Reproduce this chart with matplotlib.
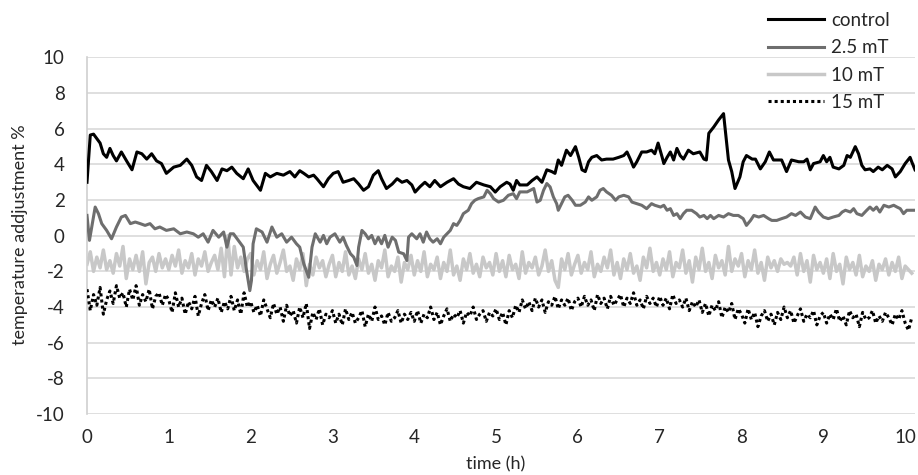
import numpy as np
import matplotlib.pyplot as plt

plt.rcParams['font.family'] = ['Lato', 'DejaVu Sans']
plt.rcParams['axes.unicode_minus'] = False

# control (black)
ctrl_t = [0.0, 0.04, 0.08, 0.12, 0.16, 0.2, 0.24, 0.28, 0.32, 0.36,
          0.42, 0.49, 0.55, 0.61, 0.67, 0.73, 0.79, 0.85, 0.91, 0.97,
          1.06, 1.14, 1.22, 1.28, 1.34, 1.40, 1.46, 1.52, 1.59, 1.65,
          1.71, 1.77, 1.83, 1.91, 1.97, 2.03, 2.12, 2.18, 2.24, 2.32,
          2.40, 2.48, 2.54, 2.60, 2.65, 2.71, 2.77, 2.81, 2.89, 2.95,
          3.01, 3.07, 3.13, 3.20, 3.26, 3.32, 3.38, 3.44, 3.50, 3.56,
          3.60, 3.66, 3.73, 3.79, 3.85, 3.91, 3.97, 4.01, 4.07, 4.13,
          4.19, 4.25, 4.32, 4.40, 4.48, 4.54, 4.60, 4.68, 4.76, 4.85,
          4.93, 4.99, 5.05, 5.13, 5.17, 5.21, 5.25, 5.29, 5.38, 5.44,
          5.50, 5.56, 5.62, 5.68, 5.72, 5.76, 5.80, 5.86, 5.91, 5.97,
          6.01, 6.05, 6.09, 6.13, 6.17, 6.23, 6.29, 6.35, 6.43, 6.50,
          6.56, 6.60, 6.64, 6.68, 6.72, 6.78, 6.84, 6.90, 6.94, 6.98,
          7.03, 7.05, 7.09, 7.13, 7.17, 7.21, 7.25, 7.29, 7.35, 7.41,
          7.49, 7.54, 7.57, 7.60, 7.66, 7.72, 7.78, 7.84, 7.88, 7.92,
          7.98, 8.02, 8.06, 8.13, 8.17, 8.23, 8.29, 8.34, 8.39, 8.49,
          8.55, 8.61, 8.70, 8.76, 8.80, 8.84, 8.88, 8.96, 9.00, 9.04,
          9.08, 9.12, 9.19, 9.25, 9.29, 9.33, 9.39, 9.43, 9.47, 9.51,
          9.57, 9.61, 9.67, 9.72, 9.78, 9.84, 9.88, 9.94, 10.00, 10.06,
          10.08, 10.12]
ctrl_v = [3.0, 5.65, 5.7, 5.45, 5.2, 4.6, 4.4, 4.9, 4.5, 4.2,
          4.7, 4.15, 3.7, 4.7, 4.6, 4.3, 4.6, 4.2, 4.05, 3.5,
          3.85, 3.95, 4.3, 3.95, 3.3, 3.1, 3.95, 3.6, 3.1, 3.75,
          3.65, 3.85, 3.5, 3.2, 3.75, 3.1, 2.55, 3.5, 3.3, 3.5,
          3.4, 3.6, 3.3, 3.65, 3.5, 3.3, 3.4, 3.2, 2.75, 3.2,
          3.5, 3.6, 3.0, 3.1, 3.2, 2.9, 2.55, 2.75, 3.4, 3.65,
          3.2, 2.65, 2.9, 3.2, 3.0, 3.1, 2.85, 2.45, 2.75, 3.0,
          2.75, 3.1, 2.75, 3.0, 3.2, 2.9, 2.75, 2.65, 3.0, 2.85,
          2.75, 2.45, 2.75, 3.0, 2.9, 2.55, 3.1, 2.85, 2.85, 3.1,
          3.3, 3.0, 3.7, 3.6, 3.5, 4.25, 3.95, 4.8, 4.5, 5.0,
          4.4, 3.7, 3.6, 4.15, 4.4, 4.5, 4.25, 4.3, 4.3, 4.4,
          4.5, 4.7, 4.3, 3.85, 4.15, 4.7, 4.7, 4.8, 4.6, 5.2,
          4.4, 4.05, 4.4, 4.7, 4.25, 4.9, 4.5, 4.3, 4.8, 4.6,
          4.7, 4.3, 4.25, 5.75, 6.1, 6.5, 6.85, 4.25, 3.6, 2.65,
          3.3, 4.15, 4.5, 4.3, 4.3, 3.75, 4.15, 4.7, 4.25, 4.25,
          3.6, 4.25, 4.15, 4.15, 4.3, 3.7, 4.05, 4.15, 4.5, 4.15,
          4.4, 3.85, 3.75, 3.95, 4.5, 4.4, 5.0, 4.6, 3.95, 3.7,
          3.75, 3.6, 3.85, 3.7, 3.95, 3.75, 3.3, 3.6, 4.05, 4.4,
          4.15, 3.7]

# 2.5 mT (dark grey)
mt25_t = [0.0, 0.03, 0.10, 0.14, 0.18, 0.24, 0.30, 0.36, 0.42, 0.47,
          0.53, 0.59, 0.65, 0.71, 0.77, 0.83, 0.89, 0.97, 1.06, 1.14,
          1.22, 1.30, 1.36, 1.42, 1.48, 1.54, 1.61, 1.67, 1.71, 1.75,
          1.79, 1.85, 1.91, 1.95, 1.99, 2.01, 2.03, 2.07, 2.14, 2.20,
          2.26, 2.32, 2.38, 2.44, 2.50, 2.56, 2.60, 2.65, 2.71, 2.75,
          2.79, 2.85, 2.89, 2.93, 2.97, 3.03, 3.09, 3.13, 3.17, 3.22,
          3.26, 3.30, 3.32, 3.36, 3.40, 3.44, 3.48, 3.52, 3.56, 3.60,
          3.64, 3.68, 3.73, 3.77, 3.81, 3.87, 3.91, 3.93, 3.97, 4.03,
          4.07, 4.11, 4.15, 4.19, 4.23, 4.28, 4.32, 4.36, 4.40, 4.44,
          4.48, 4.52, 4.56, 4.60, 4.66, 4.70, 4.74, 4.78, 4.85, 4.89,
          4.93, 4.97, 5.03, 5.09, 5.15, 5.21, 5.25, 5.29, 5.38, 5.46,
          5.50, 5.54, 5.58, 5.62, 5.66, 5.70, 5.74, 5.76, 5.80, 5.84,
          5.88, 5.93, 5.97, 6.03, 6.09, 6.13, 6.17, 6.23, 6.27, 6.31,
          6.35, 6.41, 6.46, 6.50, 6.56, 6.62, 6.66, 6.72, 6.78, 6.84,
          6.90, 6.94, 7.01, 7.05, 7.09, 7.13, 7.17, 7.21, 7.25, 7.29,
          7.33, 7.39, 7.45, 7.49, 7.54, 7.58, 7.62, 7.66, 7.72, 7.78,
          7.84, 7.90, 7.96, 8.02, 8.06, 8.11, 8.15, 8.21, 8.27, 8.33,
          8.37, 8.43, 8.49, 8.55, 8.61, 8.66, 8.72, 8.78, 8.84, 8.90,
          8.94, 9.00, 9.06, 9.12, 9.19, 9.23, 9.27, 9.33, 9.37, 9.41,
          9.47, 9.53, 9.57, 9.61, 9.65, 9.69, 9.74, 9.80, 9.86, 9.90,
          9.94, 9.98, 10.02, 10.06, 10.12]
mt25_v = [1.14, -0.26, 1.61, 1.24, 0.68, 0.30, -0.17, 0.49, 1.05, 1.14,
          0.68, 0.77, 0.68, 0.58, 0.68, 0.39, 0.49, 0.30, 0.39, 0.11,
          0.21, 0.11, -0.08, 0.11, -0.36, 0.30, -0.08, 0.21, -0.64, 0.11,
          0.11, -0.26, -0.64, -1.95, -3.08, -2.51, -0.45, 0.39, 0.21, -0.36,
          0.49, -0.08, 0.11, -0.36, -0.08, -0.45, -0.64, -1.58, -2.33, -0.64,
          0.11, -0.36, 0.02, -0.45, -0.08, 0.11, -0.36, -0.08, -0.54, -1.01,
          -1.2, -1.67, -0.64, 0.30, 0.11, -0.17, 0.02, -0.45, -0.08, -0.45,
          0.02, -0.64, -0.08, -0.26, -0.92, -1.01, -1.39, -0.08, 0.11, -0.17,
          0.11, -0.36, 0.21, -0.17, -0.36, -0.17, -0.45, -0.08, 0.11, 0.30,
          0.68, 0.58, 0.86, 1.24, 1.43, 1.80, 1.99, 2.08, 2.18, 2.55,
          2.36, 2.08, 1.89, 1.99, 2.27, 2.36, 2.08, 2.46, 2.46, 2.65,
          1.89, 1.99, 2.55, 2.93, 2.74, 2.18, 1.80, 1.43, 1.80, 2.18,
          2.27, 1.99, 1.71, 1.71, 1.89, 2.18, 1.99, 2.18, 2.55, 2.65,
          2.46, 2.27, 1.99, 2.18, 2.27, 2.18, 1.89, 1.80, 1.71, 1.52,
          1.80, 1.71, 1.61, 1.71, 1.43, 1.52, 1.14, 1.24, 0.96, 1.24,
          1.43, 1.43, 1.24, 1.05, 1.14, 0.96, 1.14, 0.96, 1.14, 1.05,
          1.24, 1.14, 1.14, 0.96, 0.58, 0.86, 1.14, 1.05, 1.14, 0.96,
          0.86, 0.86, 0.96, 1.05, 1.24, 1.14, 1.33, 1.05, 0.96, 1.61,
          1.33, 1.05, 0.96, 1.05, 1.14, 1.33, 1.43, 1.33, 1.52, 1.24,
          1.14, 1.43, 1.61, 1.43, 1.61, 1.33, 1.71, 1.61, 1.71, 1.61,
          1.52, 1.24, 1.43, 1.43, 1.43]

# 10 mT (light grey), one reading every 0.04 h
mt10_v = [-1.6, -0.9, -2.0, -1.2, -1.8, -0.8, -1.9, -1.4, -2.1, -1.0,
          -1.7, -0.6, -2.4, -1.3, -1.9, -1.1, -2.0, -0.9, -2.7, -1.5,
          -1.2, -2.0, -1.0, -1.8, -1.3,
          -1.9, -1.1, -1.7, -0.8, -2.1, -1.4, -1.8, -1.0, -2.2, -1.3,
          -1.7, -0.9, -2.0, -1.5, -1.1, -1.9, -0.7, -2.3, 0.0, -2.2,
          -0.6, -1.8, -1.2, -2.0, -1.3,
          -1.0, -2.2, -1.4, -1.9, -0.9, -2.4, -1.6, -1.1, -2.1, -1.5,
          -0.8, -2.0, -1.7, -2.5, -1.3, -1.9, -1.0, -2.8, -1.6, -2.2,
          -1.2, -1.8, -1.4, -2.3, -1.6,
          -1.1, -2.3, -1.5, -2.0, -0.9, -2.2, -1.7, -2.4, -1.3, -1.9,
          -1.0, -2.1, -1.6, -2.5, -1.4, -1.8, -0.8, -2.3, -1.7, -2.0,
          -1.2, -2.6, -1.5, -1.9, -1.1,
          -2.2, -1.4, -2.0, -0.9, -2.3, -1.6, -1.9, -1.2, -2.4, -1.5,
          -2.0, -0.8, -2.2, -1.7, -2.5, -1.3, -1.9, -1.0, -2.1, -1.6,
          -2.3, -1.2, -1.8, -1.5, -2.2,
          -1.0, -2.0, -1.4, -2.3, -1.1, -1.9, -1.6, -2.4, -0.9, -2.1,
          -1.5, -1.8, -1.2, -2.2, -1.7, -0.8, -2.0, -1.4, -2.5, -2.9,
          -1.3, -1.9, -1.0, -2.2, -1.6,
          -1.1, -2.1, -1.5, -1.9, -0.9, -2.3, -1.6, -2.0, -1.2, -1.8,
          -0.8, -2.2, -1.5, -2.4, -1.3, -1.9, -1.0, -2.1, -1.7, -2.5,
          -1.2, -1.8, -0.7, -2.0, -1.5,
          -2.2, -1.3, -1.9, -0.9, -2.3, -1.5, -1.8, -0.8, -2.1, -1.4,
          -2.6, -1.2, -1.9, -0.7, -2.0, -1.5, -2.4, -1.1, -1.8, -1.4,
          -2.2, -0.6, -2.0, -1.3, -1.7,
          -1.0, -2.3, -1.4, -1.9, -0.8, -2.1, -1.5, -2.5, -1.2, -1.8,
          -1.4, -2.0, -1.3, -1.6, -1.5, -1.7, -1.2, -2.2, -1.0, -2.0,
          -1.4, -2.6, -1.1, -1.9, -1.5,
          -2.1, -1.3, -2.4, -1.0, -2.0, -1.6, -2.7, -1.2, -1.9, -1.5,
          -2.2, -1.1, -2.3, -1.7, -2.0, -1.4, -2.5, -1.6, -1.9, -1.3,
          -2.2, -1.5, -2.0, -1.2, -2.4, -1.7, -1.9, -2.1]

# 15 mT (dotted black), one reading every 0.04 h
mt15_v = [-3.0, -4.2, -3.3, -3.9, -2.9, -4.4, -3.6, -3.1, -3.8, -2.8,
          -3.5, -3.2, -4.0, -3.0, -3.6, -2.8, -3.9, -3.3, -3.7, -3.0,
          -4.1, -3.4, -3.2, -3.9, -3.3,
          -3.6, -4.3, -3.2, -4.0, -3.5, -4.4, -3.7, -4.1, -3.4, -4.5,
          -3.8, -3.3, -4.2, -3.6, -4.0, -3.5, -4.3, -3.7, -4.1, -3.4,
          -4.2, -3.6, -4.4, -3.2, -4.0,
          -3.7, -4.3, -3.9, -4.5, -3.6, -4.1, -4.6, -3.8, -4.4, -4.0,
          -4.8, -3.9, -4.5, -4.2, -4.9, -4.0, -4.6, -3.8, -5.2, -4.3,
          -4.7, -4.1, -5.0, -4.4, -4.6,
          -4.2, -4.9, -4.4, -5.0, -4.1, -4.7, -4.3, -4.9, -4.6, -4.2,
          -5.1, -4.4, -4.8, -4.0, -4.7, -4.5, -5.0, -4.3, -4.8, -4.6,
          -4.2, -4.9, -4.4, -4.7, -4.3,
          -4.8, -4.2, -4.9, -4.4, -4.6, -4.0, -4.7, -4.3, -5.0, -4.5,
          -4.1, -4.8, -4.4, -4.6, -4.2, -4.9, -4.3, -4.5, -4.0, -4.7,
          -4.4, -4.2, -4.8, -4.3, -4.5,
          -4.1, -4.7, -4.3, -5.0, -4.2, -4.6, -3.9, -4.3, -3.6, -4.1,
          -3.7, -4.2, -3.5, -4.0, -3.6, -4.3, -3.7, -3.9, -3.4, -4.1,
          -3.6, -3.9, -3.5, -4.2, -3.7,
          -3.5, -4.0, -3.4, -3.9, -3.6, -4.2, -3.3, -3.8, -3.5, -4.1,
          -3.4, -3.9, -3.6, -3.3, -4.0, -3.5, -3.8, -3.2, -3.9, -3.6,
          -4.1, -3.4, -3.8, -3.5, -4.0,
          -3.4, -3.9, -3.5, -4.1, -3.3, -3.8, -3.6, -4.0, -3.5, -4.2,
          -3.7, -4.0, -3.6, -4.3, -3.8, -4.5, -3.9, -4.2, -3.7, -4.6,
          -4.0, -4.3, -3.8, -4.7, -4.1,
          -4.4, -4.9, -4.1, -4.7, -4.3, -5.1, -4.5, -4.2, -4.8, -4.4,
          -5.0, -4.3, -4.7, -4.0, -4.6, -4.2, -4.9, -4.5, -4.1, -4.8,
          -4.4, -4.6, -4.2, -5.0, -4.5,
          -4.3, -4.9, -4.4, -4.7, -4.1, -4.8, -4.5, -5.0, -4.2, -4.6,
          -4.4, -5.1, -4.3, -4.7, -4.6, -4.2, -4.9, -4.5, -4.8, -4.3,
          -4.6, -5.0, -4.4, -4.7, -4.2, -4.9, -5.3, -4.6]

t_step = 0.04
mt10_t = np.arange(len(mt10_v)) * t_step
mt15_t = np.arange(len(mt15_v)) * t_step

W, H = 918, 475
fig = plt.figure(figsize=(W / 100, H / 100), dpi=100)
ax = fig.add_axes([87 / W, 1 - 414 / H, (915 - 87) / W, (414 - 57.5) / H])

txt = '#262626'
l_ctrl, = ax.plot(ctrl_t, ctrl_v, color='black', lw=2.2, zorder=4, label='control')
l_10, = ax.plot(mt10_t, mt10_v, color='#c8c8c8', lw=2.5, zorder=2, label='10 mT')
l_25, = ax.plot(mt25_t, mt25_v, color='#6e6e6e', lw=2.2, zorder=3, label='2.5 mT')
l_15, = ax.plot(mt15_t, mt15_v, color='black', lw=2.2, ls=(0, (1, 1)), zorder=5, label='15 mT')

ax.set_xlim(0, 10.12)
ax.set_ylim(-10, 10)
ax.set_xticks(range(0, 11))
ax.set_yticks(range(-10, 11, 2))
ax.yaxis.grid(True, color='#d9d9d9', lw=1.2)
ax.set_axisbelow(True)
for s in ['top', 'right', 'bottom']:
    ax.spines[s].set_visible(False)
ax.spines['left'].set_color('#d0d0d0')
ax.spines['left'].set_linewidth(1.2)
ax.tick_params(axis='both', length=0, labelsize=13.5, colors=txt)
ax.tick_params(axis='y', pad=16)
ax.tick_params(axis='x', pad=11)

fig.text(20 / W, 1 - 235 / H, 'temperature addjustment %', rotation=90,
         ha='center', va='center', fontsize=13, color=txt)
fig.text((87 + 905) / 2 / W, 1 - 464 / H, 'time (h)', ha='center', va='center',
         fontsize=13, color=txt)

fig.legend([l_ctrl, l_25, l_10, l_15], ['control', '2.5 mT', '10 mT', '15 mT'],
           loc='upper left', bbox_to_anchor=(768 / W, 1 - 12 / H), frameon=False,
           borderaxespad=0, borderpad=0, handlelength=3.0, handletextpad=0.35,
           labelspacing=0.55, fontsize=13.5, labelcolor=txt)

fig.savefig('out.png', dpi=100)
